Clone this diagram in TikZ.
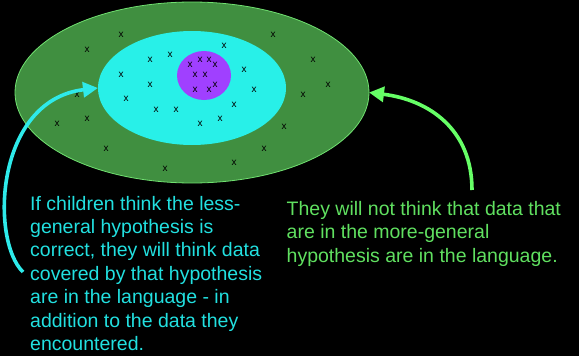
\documentclass[tikz,border=0pt]{standalone}
\usepackage{fontspec}
\setmainfont{Liberation Sans}
\usetikzlibrary{positioning, arrows.meta, shapes.geometric}

\definecolor{fieldgreen}{HTML}{408F40}
\definecolor{rimgreen}{HTML}{70E070}
\definecolor{lightcyan}{HTML}{28F0E8}
\definecolor{corepurple}{HTML}{A040FF}
\definecolor{cyanline}{HTML}{2EEAEA}
\definecolor{greenline}{HTML}{66FF66}
\definecolor{cyantext}{HTML}{22E0E0}
\definecolor{greentext}{HTML}{60E060}

\begin{document}
\begin{tikzpicture}[
    x=1pt, y=-1pt,
    % align=left,
    region/.style={ellipse, inner sep=0pt, outer sep=0pt},
    big/.style={region, fill=fieldgreen, draw=rimgreen, line width=0.8pt},
    mid/.style={region, fill=lightcyan},
    core/.style={region, fill=corepurple},
    xm/.style={inner sep=0pt, text=black, font=\fontsize{10}{10}\selectfont},
    note/.style={inner sep=0pt, anchor=base west, align=left, font=\fontsize{19.5}{23.45}\selectfont},
    pointer/.style={line width=3.6pt, -{Triangle[length=15pt, width=15pt]}},
]

\useasboundingbox (0,0) rectangle (579,356);
\fill[black] (0,0) rectangle (579,356);

% nested hypotheses
\node[big, minimum width=354pt, minimum height=181pt] (general) at (192,92.5) {};
\node[mid, minimum width=188pt, minimum height=114pt] (narrow) at (192,88) {};
\node[core, minimum width=54pt, minimum height=49pt] (data) at (204,75.5) {};

% data points
\foreach \px/\py [count=\i] in {121/35, 273/35, 87/50, 224/46, 150/60, 170/55, 313/60,
    190/65, 200/60, 209/60, 215/65, 244/70, 121/75, 195/75, 205/75, 150/85, 328/85,
    215/85, 195/90, 209/90, 254/90, 77/95, 303/95, 126/99, 234/105, 156/110, 176/110,
    57/124, 87/119, 200/124, 220/119, 284/127, 106/149, 264/149, 234/163, 165/169}
    \node[xm] (x\i) at (\px,\py) {x};

% explanations (base = last line)
\node[note, text=cyantext] (less) at (30,350.7) {If children think the less-\\general hypothesis is\\correct, they will think data\\covered by that hypothesis\\are in the language - in\\addition to the data they\\encountered.};
\node[note, text=greentext] (more) at (286.5,262) {They will not think that data that\\are in the more-general\\hypothesis are in the language.};

\coordinate (lessfoot) at (23,272);
\coordinate (morefoot) at (472,190);

\draw[pointer, cyanline] (lessfoot) .. controls (-10,240) and (-5,100) .. (narrow.west);
\draw[pointer, greenline] (morefoot) .. controls (472,130) and (430,100) .. (general.east);

\end{tikzpicture}
\end{document}
